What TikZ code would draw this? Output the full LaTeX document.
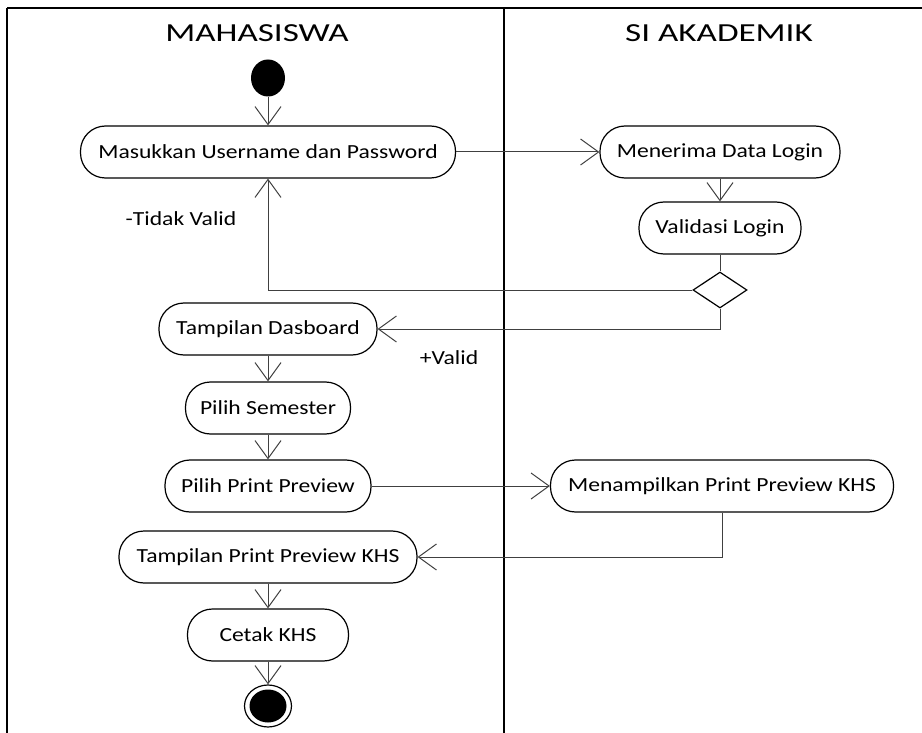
\documentclass[tikz,border=0pt]{standalone}
\usepackage{fontspec}
\setmainfont{Carlito}
\newfontfamily\boxfont[FakeStretch=1.18]{Carlito}
\newfontfamily\headfont[FakeStretch=1.35]{Carlito}
\usetikzlibrary{arrows.meta,shapes.geometric}
\begin{document}
\begin{tikzpicture}[x=1pt,y=-1pt,
  act/.style={draw, line width=1.2pt, rounded corners=25pt, minimum height=52pt, inner sep=0pt, font=\boxfont\fontsize{20}{24}\selectfont},
  lane/.style={line width=2.3pt},
  conn/.style={line width=1pt, draw=black!75},
  arr/.style={conn, -{Straight Barb[length=18pt,width=26pt,line width=1pt]}},
  lbl/.style={font=\boxfont\fontsize{20}{24}\selectfont},
  head/.style={font=\headfont\fontsize{26}{30}\selectfont}
]
\useasboundingbox (0,0) rectangle (922,733);
% swimlanes
\draw[lane] (7,8) -- (922,8);
\draw[lane] (7,8) -- (7,733);
\draw[lane] (504,8) -- (504,733);
\node[head] (hm) at (257,33) {MAHASISWA};
\node[head] (hs) at (719,33) {SI AKADEMIK};
% nodes
\node[ellipse, fill=black, minimum width=34pt, minimum height=37pt, inner sep=0pt] (start) at (268,78) {};
\node[act, minimum width=375pt] (b1) at (268,152) {Masukkan Username dan Password};
\node[act, minimum width=240pt] (mdl) at (720,152) {Menerima Data Login};
\node[act, minimum width=162pt] (val) at (720,228) {Validasi Login};
\node[diamond, draw, line width=1.2pt, aspect=1.5, minimum width=54pt, minimum height=36pt, inner sep=0pt] (dec) at (720,290) {};
\node[act, minimum width=218pt] (dasb) at (268,329) {Tampilan Dasboard};
\node[act, minimum width=165pt] (sem) at (268,408) {Pilih Semester};
\node[act, minimum width=206pt] (ppv) at (268,486) {Pilih Print Preview};
\node[act, minimum width=343pt] (mpp) at (722,486) {Menampilkan Print Preview KHS};
\node[act, minimum width=298pt] (tpp) at (268,557) {Tampilan Print Preview KHS};
\node[act, minimum width=161pt] (cetak) at (268,635) {Cetak KHS};
\node[ellipse, draw, line width=1.2pt, minimum width=47pt, minimum height=42pt, inner sep=0pt] (endo) at (268,706) {};
\node[ellipse, fill=black, minimum width=37pt, minimum height=33pt, inner sep=0pt] (endi) at (268,706) {};
% labels
\node[lbl] (ltv) at (181,219) {-Tidak Valid};
\node[lbl] (lv) at (449,358) {+Valid};
% connectors
\draw[arr] (start) -- (b1);
\draw[arr] (b1) -- (mdl);
\draw[arr] (mdl) -- (val);
\draw[conn] (val) -- (dec);
\draw[arr] (dec.west) -| (b1.south);
\draw[arr] (dec.south) |- (dasb.east);
\draw[arr] (dasb) -- (sem);
\draw[arr] (sem) -- (ppv);
\draw[arr] (ppv) -- (mpp);
\draw[arr] (mpp.south) |- (tpp.east);
\draw[arr] (tpp) -- (cetak);
\draw[arr] (cetak) -- (endo);
\end{tikzpicture}
\end{document}
